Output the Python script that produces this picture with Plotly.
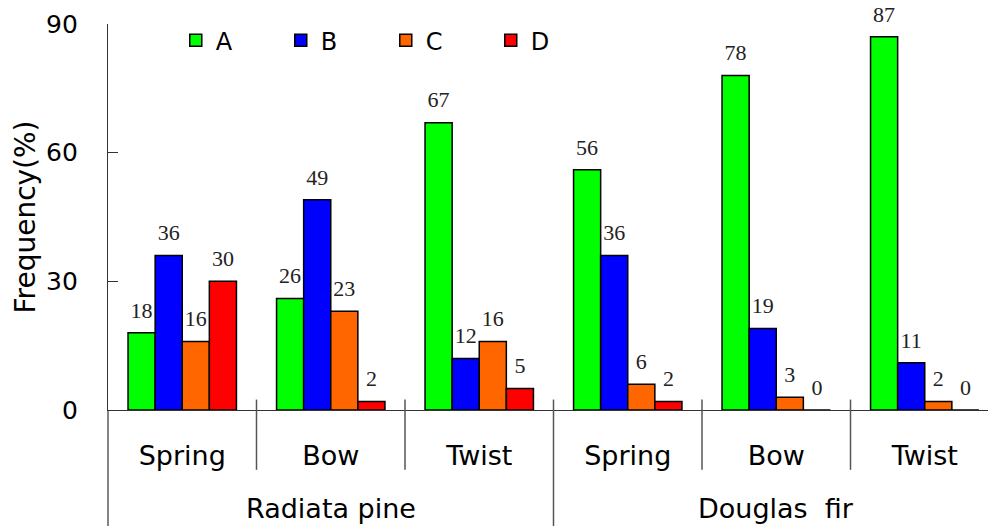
import plotly.graph_objects as go

# categories
defects = ["Spring", "Bow", "Twist", "Spring", "Bow", "Twist"]
species = ["Radiata pine", "Douglas\u00a0 fir"]

# series values (%)
a_vals = [18, 26, 67, 56, 78, 87]
b_vals = [36, 49, 12, 36, 19, 11]
c_vals = [16, 23, 16, 6, 3, 2]
d_vals = [30, 2, 5, 2, 0, 0]

series = [
    ("A", a_vals, "#00ff00"),
    ("B", b_vals, "#0000ff"),
    ("C", c_vals, "#ff6600"),
    ("D", d_vals, "#ff0000"),
]

x_pos = list(range(len(defects)))

fig = go.Figure()
for name, vals, color in series:
    fig.add_trace(
        go.Bar(
            x=x_pos,
            y=vals,
            name=name,
            offsetgroup=name,
            marker=dict(color=color, line=dict(color="black", width=1.5)),
        )
    )
# value labels, grouped the same way as the bars
for name, vals, color in series:
    fig.add_trace(
        go.Scatter(
            x=x_pos,
            y=vals,
            offsetgroup=name,
            mode="markers+text",
            marker=dict(size=14, opacity=0),
            text=[str(v) for v in vals],
            textposition="top center",
            textfont=dict(family="Liberation Serif", size=22, color="#222"),
            showlegend=False,
            hoverinfo="skip",
            cliponaxis=False,
        )
    )

fig.update_layout(
    width=988,
    height=526,
    margin=dict(l=108, r=0, t=24, b=116),
    plot_bgcolor="white",
    paper_bgcolor="white",
    barmode="group",
    bargap=0.27,
    bargroupgap=0,
    scattermode="group",
    scattergap=0.27,
    font=dict(family="DejaVu Sans", color="black"),
    showlegend=True,
    legend=dict(
        orientation="h",
        x=0.077,
        y=1.015,
        xanchor="left",
        yanchor="top",
        font=dict(size=24),
        entrywidth=60,
        entrywidthmode="pixels",
        bgcolor="rgba(0,0,0,0)",
    ),
)

fig.update_xaxes(
    range=[-0.5, -0.5 + 880 / 148.5],
    tickvals=x_pos,
    ticktext=defects,
    ticks="",
    ticklabelstandoff=21,
    tickfont=dict(size=27),
    showline=True,
    linecolor="#333",
    linewidth=1.2,
    showgrid=False,
    zeroline=False,
)

fig.update_yaxes(
    range=[0, 90],
    tickvals=[0, 30, 60, 90],
    ticks="inside",
    ticklen=10,
    tickcolor="#333",
    ticklabelstandoff=24,
    tickfont=dict(size=25),
    showline=True,
    linecolor="#333",
    linewidth=1.2,
    showgrid=False,
    zeroline=False,
    title=dict(text="Frequency(%)", font=dict(size=28), standoff=2),
)

# y-axis line continues through the label area
fig.add_shape(type="line", xref="paper", yref="paper", x0=0, x1=0, y0=0, y1=-0.31,
              line=dict(color="#333", width=1.2))

# dividers between defect types
for xv in [0.5, 1.5, 3.5, 4.5]:
    fig.add_shape(type="line", xref="x", yref="paper", x0=xv, x1=xv, y0=0.027, y1=-0.155,
                  line=dict(color="#555", width=1.5))
# divider between species
fig.add_shape(type="line", xref="x", yref="paper", x0=2.5, x1=2.5, y0=0.027, y1=-0.31,
              line=dict(color="#555", width=1.5))

# species labels
for i, sp in enumerate(species):
    fig.add_annotation(x=3 * i + 1, y=-0.255, xref="x", yref="paper", text=sp,
                       showarrow=False, font=dict(size=27), yanchor="middle")

fig.write_html("out.html", config={"displayModeBar": False},
               post_script="document.body.style.margin='0';")
